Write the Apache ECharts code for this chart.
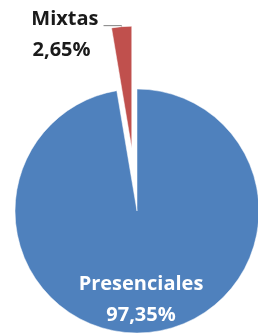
<!DOCTYPE html>
<html>
	<head>
		<meta charset="utf-8">
		<title>Modalidad</title>
		<style>
			html, body { margin: 0; padding: 0; background: #fff; }
		</style>
	</head>
	<body>
		<!-- área del gráfico -->
		<div id="container" style="width: 258px;height:333px;"></div>
	</body>
	<script src="https://cdn.jsdelivr.net/npm/echarts@6/dist/echarts.min.js"></script>
	<script type="text/javascript">
		'use strict'
		// datos
		var categories = ['Presenciales', 'Mixtas'];
		var values = [97.35, 2.65];
		var colors = ['#4F81BD', '#C0504D'];

		var myCharts = echarts.init(document.getElementById('container'));

		function pct(v) {
			return v.toFixed(2).replace('.', ',') + '%';
		}

		var pieData = categories.map(function (name, i) {
			return {
				name: name,
				value: values[i],
				selected: i === 1,
				itemStyle: { color: colors[i] },
				label: i === 1
					? {
						position: 'outside',
						color: '#1a1a1a',
						padding: [19, 0, 0, 0],
						formatter: function (p) {
							return '{a|' + p.name + '}\n{b|' + pct(p.value) + '}';
						}
					}
					: { position: 'inside', color: '#ffffff' },
				labelLine: { show: i === 1 }
			};
		});

		var option = {
			animation: false,
			series: [{
				type: 'pie',
				center: [137, 211],
				radius: 122,
				startAngle: 90,
				clockwise: true,
				selectedMode: 'single',
				selectedOffset: 63,
				emphasis: { disabled: true },
				itemStyle: { borderColor: '#ffffff', borderWidth: 0.5 },
				label: {
					fontFamily: 'Open Sans',
					fontWeight: 'bold',
					fontSize: 20,
					lineHeight: 31,
					formatter: function (p) {
						return p.name + '\n' + pct(p.value);
					},
					rich: {
						a: { fontFamily: 'Open Sans', fontWeight: 'bold', fontSize: 20, lineHeight: 31, color: '#1a1a1a' },
						b: { fontFamily: 'Open Sans', fontWeight: 'bold', fontSize: 20, lineHeight: 31, color: '#1a1a1a', padding: [0, 8, 0, 0] }
					}
				},
				labelLine: {
					length: 1,
					length2: 18,
					lineStyle: { color: '#808080', width: 1 }
				},
				// posición de la etiqueta interior
				labelLayout: function (params) {
					if (params.dataIndex === 0) {
						return { x: 141, y: 300, align: 'center', verticalAlign: 'middle' };
					}
				},
				data: pieData
			}]
		};
		myCharts.setOption(option);
	</script>
</html>
